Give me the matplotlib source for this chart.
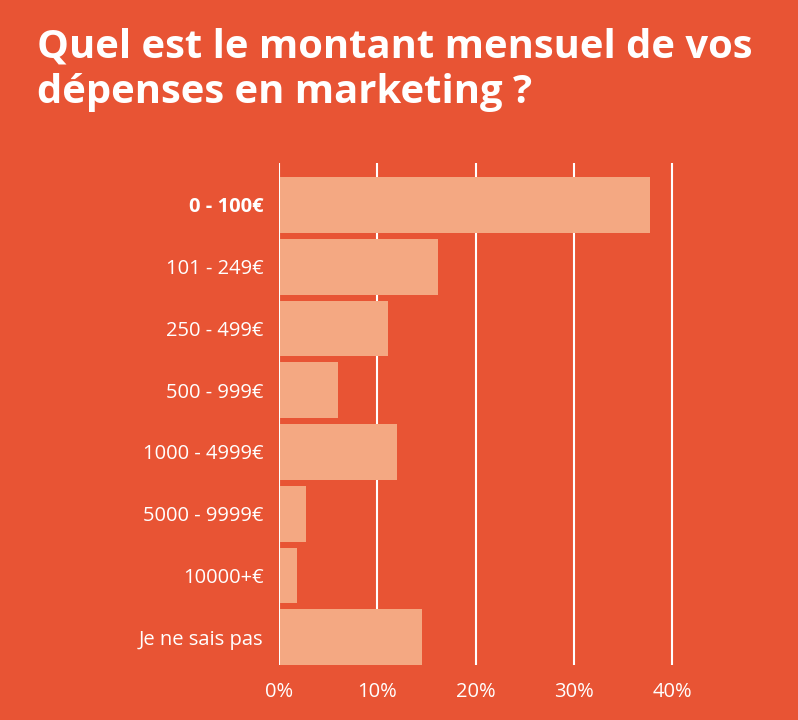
import matplotlib
matplotlib.use("Agg")
import matplotlib.pyplot as plt

categories = ["0 - 100€", "101 - 249€", "250 - 499€", "500 - 999€",
              "1000 - 4999€", "5000 - 9999€", "10000+€", "Je ne sais pas"]
values = [37.6, 16.0, 10.9, 5.9, 11.8, 2.6, 1.7, 14.4]
xticks = [0, 10, 20, 30, 40]
xtick_labels = ["0%", "10%", "20%", "30%", "40%"]

BG = "#E85434"
BAR = "#F4A882"
W, H = 798, 720

plt.rcParams['font.family'] = ['Open Sans', 'DejaVu Sans']

fig = plt.figure(figsize=(W / 100, H / 100), dpi=100, facecolor=BG)
ax = fig.add_axes([279 / W, 1 - 665 / H, 413 / W, 502 / H])
ax.set_facecolor(BG)

ypos = list(range(len(categories)))
ax.barh(ypos, values, height=0.9, color=BAR, zorder=2, left=0.15)
ax.set_xlim(0, 42)
ax.set_ylim(7.45, -0.68)

ax.set_xticks(xticks)
ax.set_xticklabels(xtick_labels)
ax.set_yticks(ypos)
ax.set_yticklabels(categories)
ax.tick_params(axis='both', length=0, colors='white', labelsize=14.5)
ax.tick_params(axis='y', pad=11)
ax.tick_params(axis='x', pad=12)
ax.get_yticklabels()[0].set_fontweight('bold')

ax.grid(axis='x', color='white', linewidth=1.5, zorder=1)
ax.grid(axis='y', visible=False)
for s in ax.spines.values():
    s.set_visible(False)

fig.text(37 / W, 1 - 28 / H, "Quel est le montant mensuel de vos\ndépenses en marketing ?",
         color='white', fontsize=28.8, fontweight='bold', ha='left', va='top',
         linespacing=1.2)

fig.savefig("out.png", dpi=100, facecolor=BG)
